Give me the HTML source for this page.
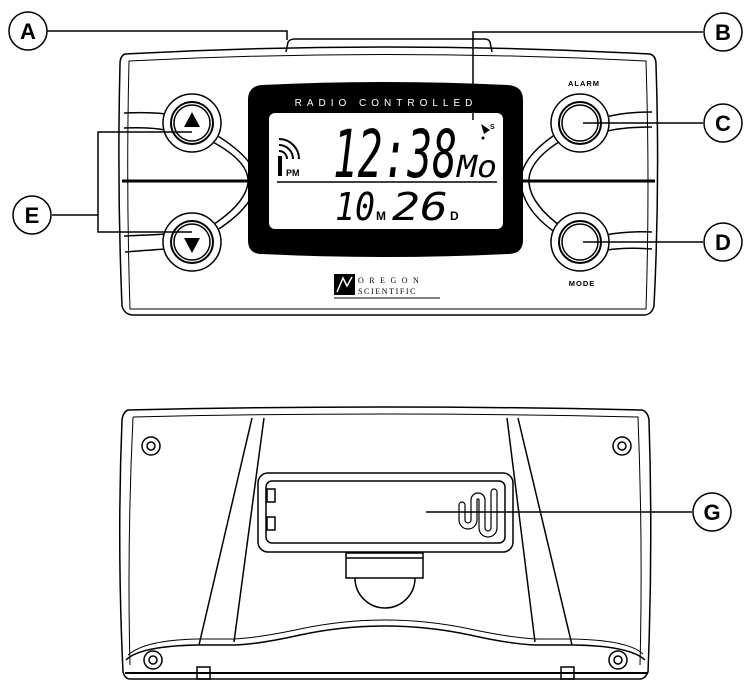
<!DOCTYPE html>
<html><head><meta charset="utf-8"><style>
html,body{margin:0;padding:0;background:#fff}
svg{display:block}
text{font-family:"Liberation Sans",sans-serif}
</style></head><body>
<svg width="754" height="692" viewBox="0 0 754 692" xmlns="http://www.w3.org/2000/svg">
<g fill="none" stroke="#000" stroke-width="1.5">
<!-- FRONT -->
<path d="M286,52 L288,42 Q290,39 295,39 L484,39 Q489,39 490,42 L492,52"/>
<path d="M125,54 Q385,40 650,54 Q656,56 656,64 Q660,185 654,306 Q652,314 645,315 L132,315 Q124,314 122,306 Q117,185 120,64 Q120,56 125,54 Z"/>
<path d="M129,61 Q385,48 646,61 Q650,185 646,309 L130,309 Q126,185 129,61 Z" stroke-width="1"/>
<line x1="122" y1="181" x2="248" y2="181" stroke-width="3"/>
<line x1="523" y1="181" x2="655" y2="181" stroke-width="3"/>
<!-- Left buttons & grooves -->
<path d="M124,113 Q150,112 166,114 M124,128 Q150,127 165,130"/>
<path d="M124,236 Q150,235 166,234 M125,252 Q150,250 166,249"/>
<path d="M205,138 Q250,160 248,183 Q245,205 208,228 M213,133 Q258,160 256,183 Q253,208 214,232"/>
<circle cx="192" cy="123" r="29" fill="#fff"/>
<circle cx="192" cy="123" r="21" stroke-width="2"/>
<circle cx="192" cy="123" r="18"/>
<circle cx="192" cy="242" r="29" fill="#fff"/>
<circle cx="192" cy="242" r="21" stroke-width="2"/>
<circle cx="192" cy="242" r="18"/>
<!-- right -->
<path d="M652,112 Q625,112 606,117 M652,127 Q625,127 607,131"/>
<path d="M652,232 Q625,231 606,235 M652,249 Q625,247 607,250"/>
<path d="M567,137 Q527,160 529,183 Q531,205 563,228 M559,132 Q519,158 521,183 Q523,210 556,233"/>
<circle cx="580" cy="123" r="29" fill="#fff"/>
<circle cx="580" cy="123" r="21" stroke-width="2"/>
<circle cx="580" cy="123" r="18"/>
<circle cx="580" cy="242" r="29" fill="#fff"/>
<circle cx="580" cy="242" r="21" stroke-width="2"/>
<circle cx="580" cy="242" r="18"/>
</g>
<polygon points="192,112 184,127 200,127" fill="#000"/>
<polygon points="192,253 184,238 200,238" fill="#000"/>
<!-- LCD -->
<path d="M262,85 Q385,79 508,85 Q523,86 523,100 L523,240 Q523,254 508,254 Q385,260 262,254 Q248,254 248,240 L248,100 Q248,86 262,85 Z" fill="#000"/>
<rect x="269" y="113" width="234" height="116" rx="6" fill="#fff"/>
<line x1="277" y1="182" x2="497" y2="182" stroke="#000" stroke-width="1.5"/>
<text x="386" y="106" font-size="10" fill="#fff" text-anchor="middle" letter-spacing="5">RADIO CONTROLLED</text>
<text x="333" y="177" font-size="66" font-style="italic" fill="#000" textLength="124" lengthAdjust="spacingAndGlyphs" style="font-family:'DejaVu Sans Mono','Liberation Mono',monospace">12:38</text>
<text x="457" y="177" font-size="30" font-style="italic" fill="#000" style="font-family:'DejaVu Sans Mono',monospace" textLength="40" lengthAdjust="spacingAndGlyphs">Mo</text>
<text x="335" y="220" font-size="38" font-style="italic" fill="#000" style="font-family:'DejaVu Sans Mono',monospace" textLength="40" lengthAdjust="spacingAndGlyphs">10</text>
<text x="376" y="220" font-size="12" font-weight="bold" fill="#000">M</text>
<text x="392" y="220" font-size="38" font-style="italic" fill="#000" style="font-family:'DejaVu Sans Mono',monospace" textLength="56" lengthAdjust="spacingAndGlyphs">26</text>
<text x="450" y="220" font-size="12" font-weight="bold" fill="#000">D</text>
<text x="286" y="176" font-size="9" font-weight="bold" fill="#000">PM</text>
<rect x="278" y="156" width="4" height="20" fill="#000"/>
<g fill="none" stroke="#000" stroke-width="2">
<path d="M279,151 A8,8 0 0 1 287,159"/><path d="M279,145 A14,14 0 0 1 293,159"/><path d="M279,139 A20,20 0 0 1 299,159"/>
</g>
<path d="M481,124 L490,130 L484,134 Z" fill="#000"/>
<text x="490" y="129" font-size="7" font-weight="bold" fill="#000">S</text>
<circle cx="483" cy="138" r="1.5" fill="#000"/>
<!-- labels -->
<text x="584" y="86" font-size="7.5" font-weight="bold" text-anchor="middle" letter-spacing="1">ALARM</text>
<text x="582" y="286" font-size="7.5" font-weight="bold" text-anchor="middle" letter-spacing="1">MODE</text>
<!-- logo -->
<rect x="334" y="274" width="21" height="21" fill="#000"/>
<path d="M337,292 L343,278 L347,286 L352,277" stroke="#fff" stroke-width="1.5" fill="none"/>
<text x="358" y="283" font-size="8" letter-spacing="5.5" style="font-family:'Liberation Serif',serif">OREGON</text>
<text x="358" y="294" font-size="8" letter-spacing="1.6" style="font-family:'Liberation Serif',serif">SCIENTIFIC</text>
<line x1="334" y1="298" x2="440" y2="298" stroke="#000"/>
<!-- BACK -->
<g fill="none" stroke="#000" stroke-width="1.5">
<path d="M128,410 Q385,404 642,410 Q648,412 649,420 Q653,545 648,672 Q645,679 640,679 L130,679 Q125,679 123,672 Q117,545 122,420 Q123,412 128,410 Z"/>
<path d="M133,417 Q385,411 638,417 Q643,545 640,665 M133,417 Q127,545 130,665" stroke-width="1"/>
<line x1="125" y1="673" x2="648" y2="673" stroke-width="2"/>
<path d="M126,660 Q140,646 198,645 L235,645 Q260,644 300,635 Q385,617 470,635 Q510,644 535,645 L575,645 Q630,646 645,660"/>
<path d="M128,655 Q145,640 198,639 L233,639 Q258,638 300,629 Q385,611 470,629 Q512,638 537,639 L572,639 Q628,640 643,654" stroke-width="1"/>
<line x1="252" y1="418" x2="199" y2="645"/>
<line x1="264" y1="418" x2="234" y2="642"/>
<line x1="507" y1="418" x2="535" y2="642"/>
<line x1="518" y1="418" x2="572" y2="645"/>
<circle cx="151" cy="446" r="9"/><circle cx="151" cy="446" r="4"/>
<circle cx="622" cy="446" r="9"/><circle cx="622" cy="446" r="4"/>
<circle cx="153" cy="660" r="9"/><circle cx="153" cy="660" r="4"/>
<circle cx="618" cy="660" r="9"/><circle cx="618" cy="660" r="4"/>
<rect x="197" y="667" width="13" height="12"/>
<rect x="561" y="667" width="13" height="12"/>
<rect x="258" y="473" width="255" height="79" rx="10"/>
<rect x="266" y="481" width="239" height="62" rx="6"/>
<rect x="267" y="489" width="8" height="13"/>
<rect x="267" y="517" width="8" height="13"/>
<path d="M459,505 L459,520 M465,505 L465,520 A3,3 0 0 0 471,520 L471,500 A7,7 0 0 1 485,500 L485,528 A3,3 0 0 0 491,528 L491,492 M459,505 A3,3 0 0 1 465,505 M459,520 A9,9 0 0 0 477,520 L477,500 A1,1 0 0 1 479,500 L479,528 A9,9 0 0 0 497,528 L497,492 M491,492 A3,3 0 0 1 497,492" stroke-width="1.2"/>
<rect x="346" y="553" width="77" height="25"/>
<line x1="346" y1="558" x2="423" y2="558"/>
<path d="M355,578 A30,30 0 0 0 415,578"/>
</g>
<!-- callouts -->
<g fill="none" stroke="#000" stroke-width="1.5">
<polyline points="47,31 287,31 287,40"/>
<polyline points="703,32 473,32 473,120"/>
<line x1="583" y1="123" x2="703" y2="123"/>
<line x1="583" y1="242" x2="703" y2="242"/>
<line x1="52" y1="215" x2="98" y2="215"/>
<polyline points="192,132 98,132 98,232 192,232"/>
<line x1="426" y1="512" x2="692" y2="512"/>
<circle cx="28" cy="31" r="19" fill="#fff"/>
<circle cx="723" cy="32" r="19" fill="#fff"/>
<circle cx="723" cy="123" r="19" fill="#fff"/>
<circle cx="723" cy="242" r="19" fill="#fff"/>
<circle cx="32" cy="215" r="19" fill="#fff"/>
<circle cx="712" cy="512" r="19" fill="#fff"/>
</g>
<g font-size="22" font-weight="bold" text-anchor="middle">
<text x="28" y="39">A</text>
<text x="723" y="40">B</text>
<text x="723" y="131">C</text>
<text x="723" y="250">D</text>
<text x="32" y="223">E</text>
<text x="712" y="520">G</text>
</g>
</svg>
</body></html>
